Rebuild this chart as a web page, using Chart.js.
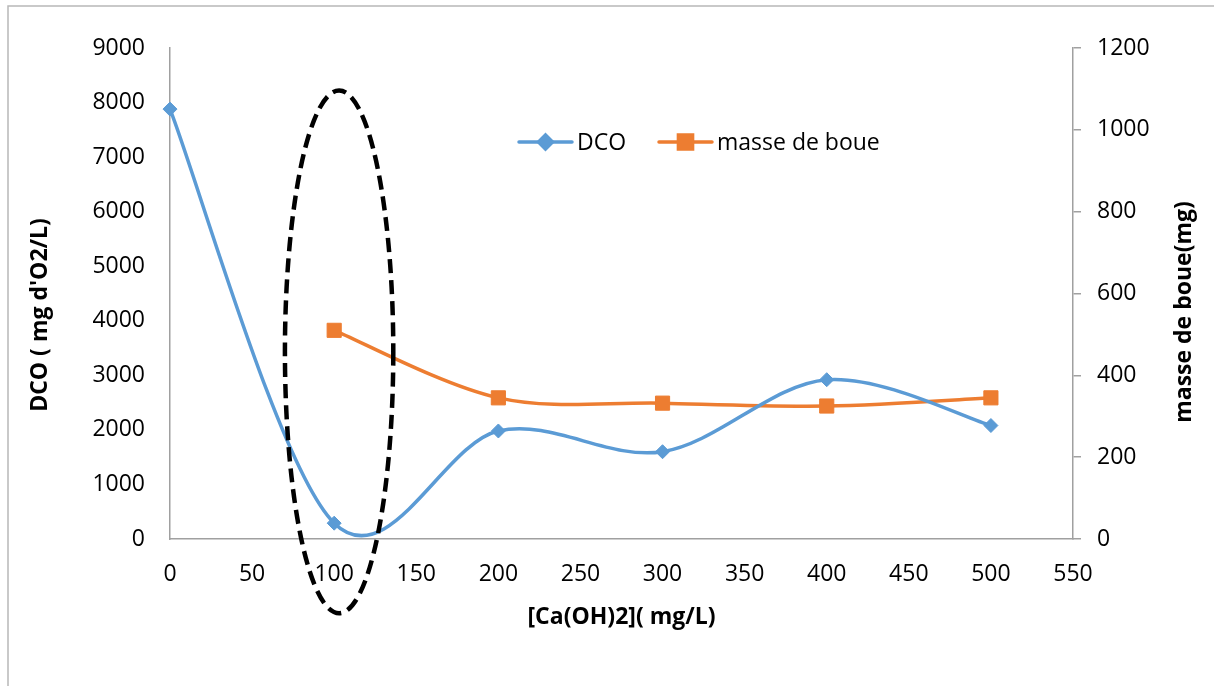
<!DOCTYPE html>
<html lang="fr">
<head>
<meta charset="UTF-8">
<title>DCO et masse de boue</title>
<script src="https://cdn.jsdelivr.net/npm/chart.js"></script>
<style>
  html, body { margin: 0; padding: 0; background: #fff; }
  #wrap { width: 1214px; height: 686px; position: relative; }
</style>
</head>
<body>
<div id="wrap"><canvas id="chart" width="1214" height="686"></canvas></div>
<script>
// doses de chaux et mesures
const doses = [0, 100, 200, 300, 400, 500];
const dco = [7880, 290, 1980, 1600, 2920, 2080];
const dosesBoue = [100, 200, 300, 400, 500];
const masseBoue = [510, 345, 332, 325, 345];

// bornes des axes
const xTicks = { min: 0, max: 550, step: 50 };
const dcoTicks = { min: 0, max: 9000, step: 1000 };
const boueTicks = { min: 0, max: 1200, step: 200 };

// zone entourée en pointillés (unités des axes x / DCO)
const zone = { x: 103, y: 3430, rx: 33, ry: 4790 };

const BLUE = '#5B9BD5';
const ORANGE = '#ED7D31';
const AXIS = '#a0a0a0';
const FONT = '"Open Sans", "Noto Sans", sans-serif';

const toPoints = (xs, ys) => xs.map((x, i) => ({ x: x, y: ys[i] }));
const plain = v => String(v);

// lissage type Catmull-Rom (tangente = (suivant - précédent) / 6)
const smoothing = {
  id: 'smoothing',
  beforeDatasetsDraw(chart) {
    chart.data.datasets.forEach((ds, i) => {
      const meta = chart.getDatasetMeta(i);
      const line = meta.dataset;
      line.updateControlPoints(chart.chartArea, 'x');
      const pts = meta.data;
      pts.forEach((p, k) => {
        const prev = pts[k - 1] || p;
        const next = pts[k + 1] || p;
        const dx = (next.x - prev.x) / 6;
        const dy = (next.y - prev.y) / 6;
        p.cp1x = p.x - dx; p.cp1y = p.y - dy;
        p.cp2x = p.x + dx; p.cp2y = p.y + dy;
      });
    });
  }
};

// cadre, titres des axes, légende et ellipse
const decor = {
  id: 'decor',
  beforeDraw(chart) {
    const ctx = chart.ctx;
    ctx.save();
    ctx.strokeStyle = '#b8b8b8';
    ctx.lineWidth = 1.5;
    ctx.beginPath();
    ctx.moveTo(8, chart.height);
    ctx.lineTo(8, 6);
    ctx.lineTo(chart.width, 6);
    ctx.stroke();
    ctx.restore();
  },
  afterDatasetsDraw(chart) {
    const ctx = chart.ctx;
    const sx = chart.scales.x, sy = chart.scales.y;
    const cx = sx.getPixelForValue(zone.x);
    const cy = sy.getPixelForValue(zone.y);
    const rx = sx.getPixelForValue(zone.x + zone.rx) - cx;
    const ry = cy - sy.getPixelForValue(zone.y + zone.ry);
    ctx.save();
    ctx.strokeStyle = '#000';
    ctx.lineWidth = 4.5;
    ctx.setLineDash([14, 7]);
    ctx.beginPath();
    ctx.ellipse(cx, cy, rx, ry, 0, 0, Math.PI * 2);
    ctx.stroke();
    ctx.restore();
  },
  afterDraw(chart) {
    const ctx = chart.ctx;
    const area = chart.chartArea;
    ctx.save();
    ctx.fillStyle = '#000';
    ctx.font = 'bold 23px ' + FONT;
    ctx.textAlign = 'center';
    ctx.textBaseline = 'middle';
    ctx.fillText('[Ca(OH)2]( mg/L)', (area.left + area.right) / 2, 617);

    ctx.save();
    ctx.translate(40, 315);
    ctx.rotate(-Math.PI / 2);
    ctx.fillText("DCO ( mg d'O2/L)", 0, 0);
    ctx.restore();

    ctx.save();
    ctx.translate(1184, 312);
    ctx.rotate(-Math.PI / 2);
    ctx.fillText('masse de boue(mg)', 0, 0);
    ctx.restore();

    // légende
    const items = [
      { label: 'DCO', color: BLUE, x: 519, style: 'rectRot', r: 7 },
      { label: 'masse de boue', color: ORANGE, x: 659, style: 'rect', r: 10 }
    ];
    const ly = 142;
    ctx.font = '23px ' + FONT;
    ctx.textAlign = 'left';
    items.forEach(it => {
      ctx.strokeStyle = it.color;
      ctx.lineWidth = 3.5;
      ctx.lineCap = 'round';
      ctx.beginPath();
      ctx.moveTo(it.x, ly);
      ctx.lineTo(it.x + 53, ly);
      ctx.stroke();
      ctx.fillStyle = it.color;
      Chart.helpers.drawPoint(ctx, { pointStyle: it.style, radius: it.r, borderWidth: 1, rotation: 0 }, it.x + 26.5, ly);
      ctx.fill();
      ctx.fillStyle = '#000';
      ctx.fillText(it.label, it.x + 58, ly + 1);
    });
    ctx.restore();
  }
};

const tickFont = { family: FONT, size: 23 };

new Chart(document.getElementById('chart'), {
  type: 'line',
  data: {
    datasets: [
      {
        label: 'DCO',
        data: toPoints(doses, dco),
        yAxisID: 'y',
        borderColor: BLUE,
        backgroundColor: BLUE,
        borderWidth: 3.5,
        tension: 0.3,
        capBezierPoints: false,
        pointStyle: 'rectRot',
        pointRadius: 7,
        pointBorderWidth: 1
      },
      {
        label: 'masse de boue',
        data: toPoints(dosesBoue, masseBoue),
        yAxisID: 'y1',
        borderColor: ORANGE,
        backgroundColor: ORANGE,
        borderWidth: 3.5,
        tension: 0.3,
        capBezierPoints: false,
        pointStyle: 'rect',
        pointRadius: 10,
        pointBorderWidth: 1
      }
    ]
  },
  options: {
    responsive: false,
    animation: false,
    clip: false,
    layout: { padding: { top: 48, left: 0, right: 0, bottom: 0 } },
    plugins: {
      legend: { display: false },
      tooltip: { enabled: false }
    },
    scales: {
      x: {
        type: 'linear',
        min: xTicks.min,
        max: xTicks.max,
        grid: { display: false, drawTicks: false },
        border: { display: true, color: AXIS, width: 1.5 },
        ticks: { stepSize: xTicks.step, padding: 22, color: '#000', font: tickFont, callback: plain },
        afterFit(s) { s.height = 147; }
      },
      y: {
        position: 'left',
        min: dcoTicks.min,
        max: dcoTicks.max,
        grid: { display: false, drawTicks: false },
        border: { display: true, color: AXIS, width: 1.5 },
        ticks: { stepSize: dcoTicks.step, padding: 25, color: '#000', font: tickFont, callback: plain },
        afterFit(s) { s.width = 170; }
      },
      y1: {
        position: 'right',
        min: boueTicks.min,
        max: boueTicks.max,
        grid: { display: true, drawOnChartArea: false, drawTicks: true, tickLength: 8, color: AXIS, lineWidth: 1.5 },
        border: { display: true, color: AXIS, width: 1.5 },
        ticks: { stepSize: boueTicks.step, padding: 16, color: '#000', font: tickFont, callback: plain },
        afterFit(s) { s.width = 141; }
      }
    }
  },
  plugins: [smoothing, decor]
});
</script>
</body>
</html>
